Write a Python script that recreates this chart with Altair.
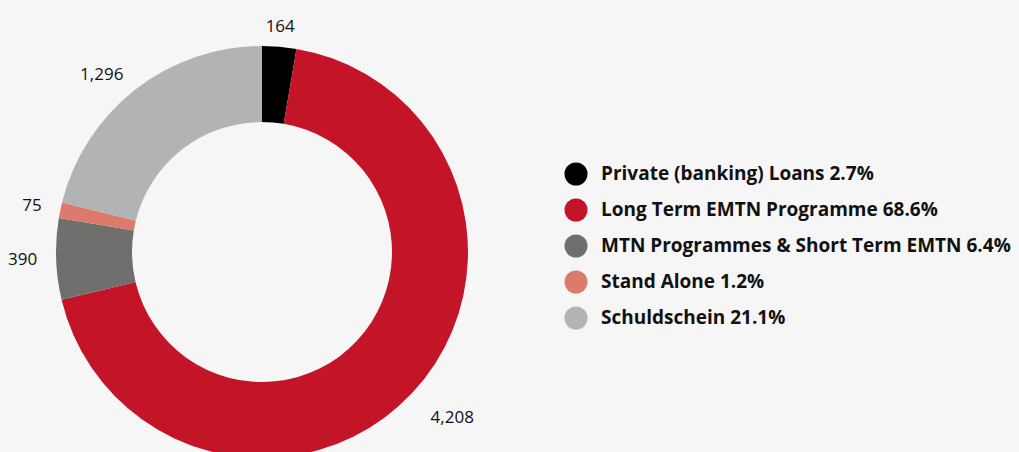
import altair as alt
import pandas as pd
import math

names = ["Private (banking) Loans", "Long Term EMTN Programme",
         "MTN Programmes & Short Term EMTN", "Stand Alone", "Schuldschein"]
values = [164, 4208, 390, 75, 1296]
percents = ["2.7%", "68.6%", "6.4%", "1.2%", "21.1%"]
value_labels = ["164", "4,208", "390", "75", "1,296"]
colors = ["#000000", "#C41528", "#6F6F6D", "#DC7B6C", "#B2B3B4"]
BG = "#F6F6F6"

legend_labels = [f"{n} {p}" for n, p in zip(names, percents)]
df = pd.DataFrame({
    "name": legend_labels,
    "value": values,
    "label": value_labels,
    "order": list(range(len(names))),
})

CX, CY = 254, 244

base = alt.Chart(df).transform_window(
    cum="sum(value)", sort=[alt.SortField("order")]
).transform_joinaggregate(
    total="sum(value)"
).transform_calculate(
    start="(datum.cum - datum.value) / datum.total * 360",
    end="datum.cum / datum.total * 360",
    mid="(datum.cum - datum.value/2) / datum.total * 360",
)

theta_scale = alt.Scale(domain=[0, 360], range=[0, 2 * math.pi])

arcs = base.mark_arc(outerRadius=206, innerRadius=130, stroke=None).encode(
    theta=alt.Theta("start:Q", stack=None, scale=theta_scale),
    theta2="end:Q",
    x=alt.value(CX), y=alt.value(CY),
    color=alt.Color(
        "name:N",
        scale=alt.Scale(domain=legend_labels, range=colors),
        sort=legend_labels,
        legend=alt.Legend(
            title=None, orient="none", legendX=556, legendY=154,
            symbolType="circle", symbolSize=530, symbolStrokeWidth=0,
            labelFont="Open Sans", labelFontSize=19, labelFontWeight="bold",
            labelColor="#111111", labelOffset=13, rowPadding=12,
            labelLimit=700,
        ),
    ),
)

def label_layer(cond, radius, align, baseline):
    return base.transform_filter(cond).mark_text(
        radius=radius, font="Open Sans", fontSize=17, color="#111111",
        align=align, baseline=baseline,
    ).encode(
        theta=alt.Theta("mid:Q", stack=None, scale=theta_scale),
        x=alt.value(CX), y=alt.value(CY),
        text="label:N",
    )

top = label_layer("datum.mid < 20", 217, "center", "bottom")
right = label_layer("datum.mid >= 20 && datum.mid < 180", 231, "left", "top")
left = label_layer("datum.mid >= 180", 225, "right", "middle")

chart = alt.layer(arcs, top, right, left).properties(
    width=1003, height=444, padding=0,
    autosize=alt.AutoSizeParams(type="none"),
    background=BG,
).configure_view(stroke=None)

# give the page itself the same light grey background as the chart
try:
    from altair.utils import html as _alt_html
    _orig_tpl = _alt_html.TEMPLATES["standard"]

    class _BgTemplate:
        def render(self, *args, **kwargs):
            out = _orig_tpl.render(*args, **kwargs)
            style = "<style>html, body { background: %s; }</style>" % BG
            if "<head>" in out:
                return out.replace("<head>", "<head>" + style, 1)
            return style + out

    _alt_html.TEMPLATES["standard"] = _BgTemplate()
except Exception:
    pass

chart.save("out.html", embed_options={"renderer": "svg", "actions": False})
